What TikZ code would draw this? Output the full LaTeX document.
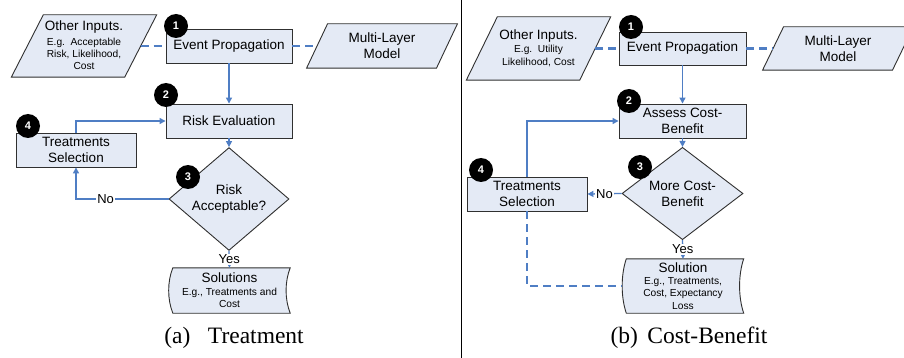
\documentclass[tikz,border=0pt]{standalone}
\usepackage{fontspec}
\setmainfont{Liberation Sans}
\newfontfamily\capfont{Liberation Serif}
\usetikzlibrary{arrows.meta,shapes.geometric,calc,backgrounds}
\definecolor{fillc}{HTML}{E4EAF5}
\definecolor{linec}{HTML}{4F7EC4}
\definecolor{boxline}{HTML}{303030}
\newcommand\fbig{\fontsize{13.5}{16}\selectfont}
\newcommand\fsmall{\fontsize{10.2}{12.3}\selectfont}
\begin{document}
\begin{tikzpicture}[x=1pt,y=-1pt,
  every node/.style={font=\fbig},
  box/.style={draw=boxline, fill=fillc, line width=0.9pt, rectangle, minimum width=126pt, minimum height=34pt, inner sep=1pt, align=center},
  dec/.style={draw=boxline, fill=fillc, line width=0.9pt, diamond, minimum width=120pt, minimum height=72pt, inner sep=0pt, align=center},
  frame/.style={rectangle, inner sep=0pt},
  txt/.style={rectangle, inner sep=0pt, align=center},
  txtsmall/.style={rectangle, inner sep=0pt, align=center, font=\fsmall},
  shapeline/.style={draw=boxline, fill=fillc, line width=0.9pt},
  conn/.style={draw=linec, line width=1.3pt, -{Triangle[length=6pt,width=6pt]}},
  dashlink/.style={draw=linec, line width=2.2pt, dash pattern=on 8pt off 5pt},
  badge/.style={circle, fill=black, text=white, minimum size=24pt, inner sep=0pt, font=\bfseries\fontsize{11}{11}\selectfont},
  lbl/.style={fill=white, inner sep=1pt, font=\fontsize{13}{13}\selectfont},
  captext/.style={inner sep=0pt, font=\capfont\fontsize{23.5}{24}\selectfont}
]
\useasboundingbox (0,0) rectangle (904,358);

% separator
\draw[black, line width=1pt] (461.5,0) -- (461.5,358);

% ================= panel (a) =================
\node[frame, minimum width=113pt, minimum height=62pt] (oiA) at (84,46) {};
\node[txt] (oiAt) at ($(oiA.center)+(0,-19)$) {Other Inputs.};
\node[txtsmall] (oiAs) at ($(oiA.center)+(0,8)$) {E.g.~~Acceptable\\Risk, Likelihood,\\Cost};
\node[txt, minimum width=129.5pt, minimum height=44pt] (mlA) at (382,46) {Multi-Layer\\Model};
\node[box] (epA) at (229,46) {Event Propagation};
\node[box] (reA) at (229,121) {Risk Evaluation};
\node[box, minimum width=120pt] (tsA) at (76,150) {Treatments\\Selection};
\node[dec] (dA) at (229,199) {Risk\\Acceptable?};
\node[frame, minimum width=121pt, minimum height=45pt] (solA) at (229.5,290.5) {};
\node[txt] (solAt) at ($(solA.center)+(0,-12.5)$) {Solutions};
\node[txtsmall] (solAs) at ($(solA.center)+(0,7.5)$) {E.g., Treatments and\\Cost};

% ================= panel (b) =================
\node[frame, minimum width=113pt, minimum height=63pt] (oiB) at (538.5,48.5) {};
\node[txt] (oiBt) at ($(oiB.center)+(0,-12.5)$) {Other Inputs.};
\node[txtsmall] (oiBs) at ($(oiB.center)+(0,7.5)$) {E.g.~~Utility\\Likelihood, Cost};
\node[txt, minimum width=129.5pt, minimum height=43pt] (mlB) at (838,48.5) {Multi-Layer\\Model};
\node[box, minimum width=127pt, minimum height=33pt] (epB) at (682.5,48.5) {Event Propagation};
\node[box, minimum width=127pt] (acB) at (682.5,121) {Assess Cost-\\Benefit};
\node[box, minimum width=120pt] (tsB) at (527,194) {Treatments\\Selection};
\node[dec, minimum width=121pt, minimum height=73pt] (dB) at (682.5,193.5) {More Cost-\\Benefit};
\node[frame, minimum width=121pt, minimum height=54pt] (solB) at (683,286) {};
\node[txt] (solBt) at ($(solB.center)+(0,-18)$) {Solution};
\node[txtsmall] (solBs) at ($(solB.center)+(0,7.5)$) {E.g., Treatments,\\Cost, Expectancy\\Loss};

% ---------- background outlines ----------
\begin{scope}[on background layer]
  \fill[white] (0,0) rectangle (904,358);
  \draw[shapeline] ($(oiA.north west)+(16,0)$) -- ($(oiA.north east)+(16,0)$)
     -- ($(oiA.south east)-(16,0)$) -- ($(oiA.south west)-(16,0)$) -- cycle;
  \draw[shapeline] ($(mlA.north west)+(10.5,0)$) -- ($(mlA.north east)+(10.5,0)$)
     -- ($(mlA.south east)-(10.5,0)$) -- ($(mlA.south west)-(10.5,0)$) -- cycle;
  \draw[shapeline] ($(oiB.north west)+(15.5,0)$) -- ($(oiB.north east)+(15.5,0)$)
     -- ($(oiB.south east)-(15.5,0)$) -- ($(oiB.south west)-(15.5,0)$) -- cycle;
  \draw[shapeline] ($(mlB.north west)+(10.5,0)$) -- ($(mlB.north east)+(10.5,0)$)
     -- ($(mlB.south east)-(10.5,0)$) -- ($(mlB.south west)-(10.5,0)$) -- cycle;
  \draw[shapeline] ($(solA.north west)+(4,0)$) -- (solA.north east)
     .. controls ($(solA.north east)+(-5.5,14)$) and ($(solA.south east)+(-5.5,-14)$) .. (solA.south east)
     -- ($(solA.south west)+(4,0)$)
     .. controls ($(solA.south west)+(-1.5,-14)$) and ($(solA.north west)+(-1.5,14)$) .. cycle;
  \draw[shapeline] ($(solB.north west)+(4,0)$) -- (solB.north east)
     .. controls ($(solB.north east)+(-5.5,16)$) and ($(solB.south east)+(-5.5,-16)$) .. (solB.south east)
     -- ($(solB.south west)+(4,0)$)
     .. controls ($(solB.south west)+(-1.5,-16)$) and ($(solB.north west)+(-1.5,16)$) .. cycle;
\end{scope}

% ---------- connectors (a) ----------
\draw[dashlink] (oiA.east) -- (epA.west);
\draw[dashlink] (epA.east) -- (mlA.west);
\draw[conn] (epA.south) -- (reA.north);
\draw[conn] (reA.south) -- (dA.north);
\draw[conn] (tsA.north) |- (reA.west);
\draw[conn] (dA.west) -| node[lbl, pos=0.34] {No} (tsA.south);
\draw[conn] (dA.south) -- node[lbl] {Yes} (solA.north);

% ---------- connectors (b) ----------
\draw[dashlink] (oiB.east) -- (epB.west);
\draw[dashlink] (epB.east) -- (mlB.west);
\draw[conn] (epB.south) -- (acB.north);
\draw[conn] (acB.south) -- (dB.north);
\draw[conn] (tsB.north) |- (acB.west);
\draw[conn] (dB.west) -- node[lbl, pos=0.5] {No} (tsB.east);
\draw[dashlink] (tsB.south) |- (solB.west);
\draw[conn] (dB.south) -- node[lbl] {Yes} (solB.north);

% ---------- badges ----------
\node[badge] (b1A) at (176,26) {1};
\node[badge] (b2A) at (166,95) {2};
\node[badge] (b3A) at (188,177) {3};
\node[badge] (b4A) at (28,126) {4};
\node[badge] (b1B) at (631,27) {1};
\node[badge] (b2B) at (629,101) {2};
\node[badge] (b3B) at (640,167) {3};
\node[badge] (b4B) at (481,170) {4};

% ---------- captions ----------
\node[captext] (capA) at (234,338) {(a)\hspace{0.75em}Treatment};
\node[captext] (capB) at (689,338) {(b)\hspace{0.4em}Cost-Benefit};
\end{tikzpicture}
\end{document}
